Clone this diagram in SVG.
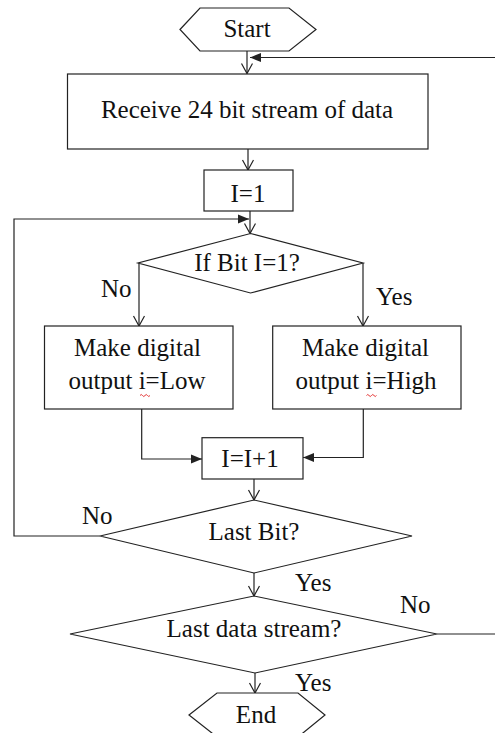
<svg xmlns="http://www.w3.org/2000/svg" width="495" height="733" viewBox="0 0 495 733">
<style>
.s{fill:#fff;stroke:#222;stroke-width:1.2}
.c{fill:none;stroke:#222;stroke-width:1.2}
text{font-family:"Liberation Serif","Times New Roman",serif;font-size:25px;fill:#111}
.m{text-anchor:middle}
.sq{fill:none;stroke:#e02020;stroke-width:0.9}
</style>
<defs>
<marker id="open" markerUnits="userSpaceOnUse" markerWidth="14" markerHeight="14" refX="11" refY="6" orient="auto">
<path d="M1,0.5 L11,6 L1,11.5" fill="none" stroke="#222" stroke-width="1.2"/>
</marker>
<marker id="fill" markerUnits="userSpaceOnUse" markerWidth="14" markerHeight="12" refX="11" refY="5" orient="auto">
<path d="M0,0.5 L11,5 L0,9.5 z" fill="#222"/>
</marker>
</defs>
<g id="connectors">
<path class="c" d="M247,51 V73.5" marker-end="url(#open)"/>
<path class="c" d="M495,57.5 H250" marker-end="url(#fill)"/>
<path class="c" d="M248,149 V170" marker-end="url(#open)"/>
<path class="c" d="M250,211 V233.5" marker-end="url(#open)"/>
<path class="c" d="M100,536 H14 V219 H249" marker-end="url(#fill)"/>
<path class="c" d="M139,263 V326" marker-end="url(#open)"/>
<path class="c" d="M363,263 V326" marker-end="url(#open)"/>
<path class="c" d="M141.7,409 V459 H202" marker-end="url(#fill)"/>
<path class="c" d="M363.3,409 V457.5 H303" marker-end="url(#fill)"/>
<path class="c" d="M254,479 V500" marker-end="url(#open)"/>
<path class="c" d="M254,573 V596" marker-end="url(#open)"/>
<path class="c" d="M437,634 H495"/>
<path class="c" d="M255,673 V693" marker-end="url(#open)"/>
</g>
<g id="start">
<polygon class="s" points="180,29.5 200,8 289,8 316,29.5 289,51 200,51"/>
<text class="m" x="247" y="37">Start</text>
</g>
<g id="receive">
<rect class="s" x="67.5" y="74" width="360.5" height="75"/>
<text class="m" x="247" y="117.5">Receive 24 bit stream of data</text>
</g>
<g id="init">
<rect class="s" x="204" y="170" width="89" height="41"/>
<text class="m" x="248" y="201.5">I=1</text>
</g>
<g id="ifbit">
<polygon class="s" points="250.5,233.5 363,263 250.5,293 138,263"/>
<text class="m" x="247" y="271">If Bit I=1?</text>
</g>
<g id="low">
<rect class="s" x="44.5" y="326" width="188.5" height="83"/>
<text class="m" x="137.5" y="356">Make digital</text>
<text class="m" x="137" y="388.5">output i=Low</text>
<path class="sq" d="M140,395.5 q1.25,-2 2.5,0 t2.5,0 t2.5,0 t2.5,0"/>
</g>
<g id="high">
<rect class="s" x="272.7" y="326" width="188.3" height="83"/>
<text class="m" x="365.5" y="356">Make digital</text>
<text class="m" x="366" y="388.5">output i=High</text>
<path class="sq" d="M366.5,395.5 q1.25,-2 2.5,0 t2.5,0 t2.5,0 t2.5,0"/>
</g>
<g id="incr">
<rect class="s" x="202" y="437.7" width="101" height="41.3"/>
<text class="m" x="250" y="467">I=I+1</text>
</g>
<g id="lastbit">
<polygon class="s" points="254,500 412,536 254,573 100,536"/>
<text class="m" x="254" y="540">Last Bit?</text>
</g>
<g id="laststream">
<polygon class="s" points="254,596 437,634 255,673 70,634"/>
<text class="m" x="254" y="637">Last data stream?</text>
</g>
<g id="end">
<polygon class="s" points="189,715 217,693 298,693 325,715 298,737 217,737"/>
<text class="m" x="256" y="723">End</text>
</g>
<g id="labels">
<text x="101" y="297">No</text>
<text x="376" y="305">Yes</text>
<text x="82" y="524">No</text>
<text x="295" y="591">Yes</text>
<text x="400" y="613">No</text>
<text x="295" y="691">Yes</text>
</g>
</svg>
